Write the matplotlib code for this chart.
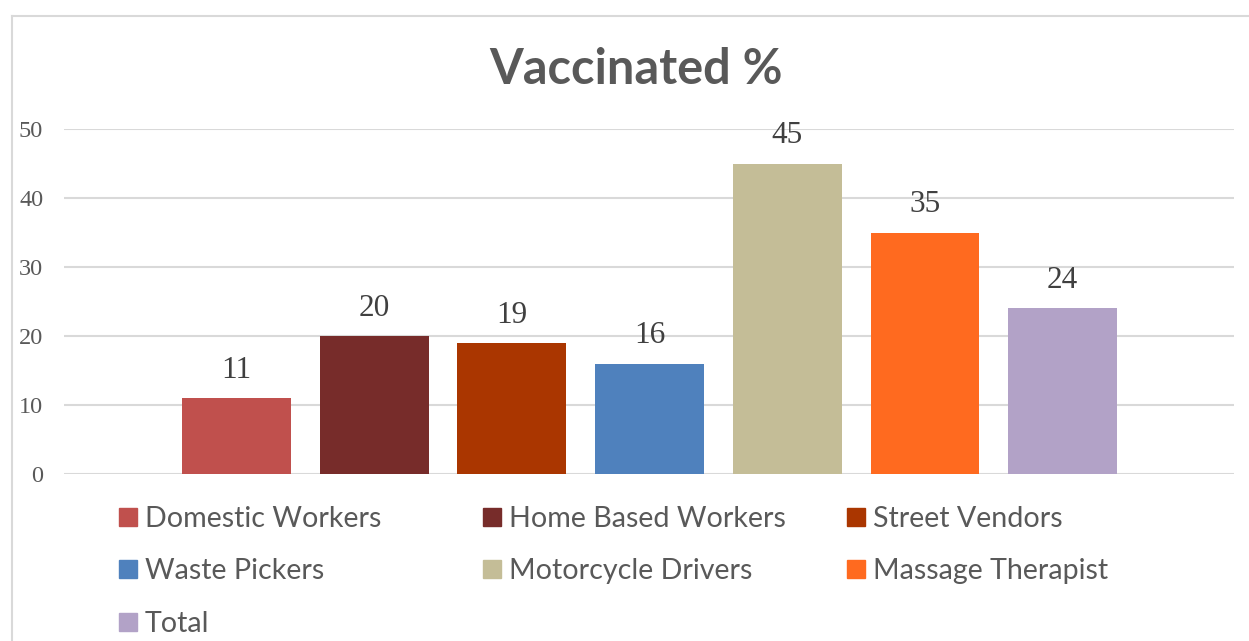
import matplotlib.pyplot as plt
from matplotlib.patches import Rectangle
from matplotlib.lines import Line2D

# data
groups = ['Domestic Workers', 'Home Based Workers', 'Street Vendors',
          'Waste Pickers', 'Motorcycle Drivers', 'Massage Therapist', 'Total']
vaccinated = [11, 20, 19, 16, 45, 35, 24]
colors = ['#C0504D', '#772C2A', '#AA3600', '#4F81BD', '#C4BD97', '#FF6A1F', '#B2A2C7']
yticks = [0, 10, 20, 30, 40, 50]

fig = plt.figure(figsize=(12.49, 6.41), dpi=100)
W, H = 1249, 641

# chart frame (cut off on the right and bottom like the screenshot)
fig.add_artist(Line2D([12 / W, 12 / W], [0, 1 - 16 / H], color='#D9D9D9', lw=1.5))
fig.add_artist(Line2D([12 / W, 1], [1 - 16 / H, 1 - 16 / H], color='#D9D9D9', lw=1.5))

ax = fig.add_axes([64 / W, 1 - 474 / H, (1234 - 64) / W, (474 - 129) / H])
x = list(range(len(groups)))
bars = ax.bar(x, vaccinated, width=0.79, color=colors, zorder=3)

for xi, v in zip(x, vaccinated):
    ax.annotate(str(v), (xi, v), xytext=(0, 14.5), textcoords='offset points',
                ha='center', va='baseline', fontsize=22.5,
                family='Liberation Serif', color='#404040')

ax.set_xlim(-1.253, 7.245)
ax.set_ylim(0, 50)
ax.set_yticks(yticks)
ax.set_yticklabels([str(t) for t in yticks], family='Liberation Serif',
                   fontsize=17.5, color='#595959')
ax.tick_params(axis='y', length=0, pad=15)
ax.set_xticks([])
ax.grid(axis='y', color='#D9D9D9', lw=1.5, zorder=0)
for s in ax.spines.values():
    s.set_visible(False)

fig.text(636 / W, 1 - 70 / H, 'Vaccinated %', ha='center', va='center',
         family='Lato', weight='bold', fontsize=35, color='#595959')

# legend, laid out in rows like the original
col_x = [119, 483, 847]
row_y = [517, 569, 622]
for i, (name, c) in enumerate(zip(groups, colors)):
    cx = col_x[i % 3]
    cy = row_y[i // 3]
    fig.add_artist(Rectangle((cx / W, 1 - (cy + 9) / H), 18 / W, 18 / H,
                             transform=fig.transFigure, color=c))
    fig.text((cx + 26) / W, 1 - (cy + 2) / H, name, ha='left', va='center',
             family='Lato', fontsize=20.6, color='#595959')

fig.savefig('out.png', dpi=100)
